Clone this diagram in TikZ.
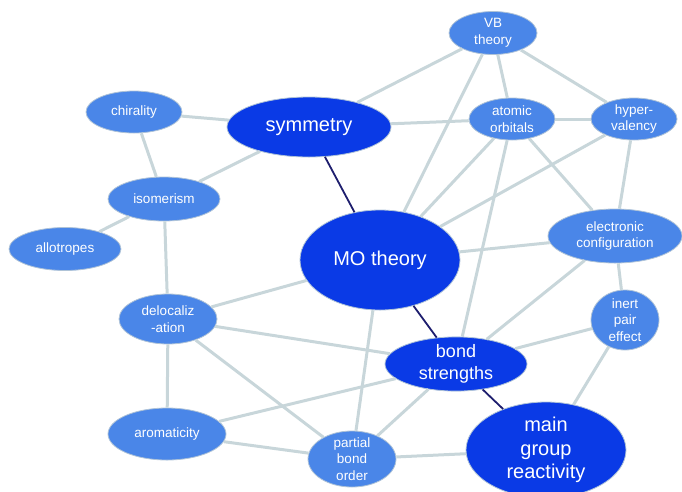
\documentclass[tikz,border=0pt]{standalone}
\usepackage{fontspec}
\setmainfont{Liberation Sans}
\usetikzlibrary{shapes.geometric}
\definecolor{smallblue}{RGB}{74,134,232}
\definecolor{bigblue}{RGB}{10,58,230}
\definecolor{rim}{RGB}{175,195,215}
\definecolor{linkgray}{RGB}{200,214,218}
\definecolor{darklink}{RGB}{30,30,110}

\begin{document}
\begin{tikzpicture}[x=1pt,y=-1pt]
\useasboundingbox (0,0) rectangle (682,491);
\begin{scope}[every node/.style={ellipse,fill=smallblue,draw=rim,line width=0.8pt,
    text=white,align=center,inner sep=0pt,font=\fontsize{13.5}{16.5}\selectfont}]
    \node[minimum width=88pt,minimum height=43pt] (VB) at (493,33) {VB\\theory};
    \node[minimum width=86pt,minimum height=42pt] (AO) at (512,119) {atomic\\orbitals};
    \node[minimum width=86pt,minimum height=42pt] (Hyp) at (634,119) {hyper-\\valency};
    \node[minimum width=96pt,minimum height=42pt] (Chir) at (134,112) {chirality};
    \node[minimum width=112pt,minimum height=44pt] (Iso) at (164,199) {isomerism};
    \node[minimum width=112pt,minimum height=43pt] (Allo) at (65,249) {allotropes};
    \node[minimum width=98pt,minimum height=50pt] (Deloc) at (168,319) {delocaliz\\-ation};
    \node[minimum width=118pt,minimum height=52pt] (Arom) at (167,434) {aromaticity};
    \node[minimum width=88pt,minimum height=56pt,inner ysep=-3pt] (PBO) at (352,459) {partial\\bond\\order};
    \node[minimum width=134pt,minimum height=54pt] (EC) at (615,236) {electronic\\configuration};
    \node[minimum width=68pt,minimum height=60pt,inner ysep=-2pt] (IPE) at (625,320) {inert\\pair\\effect};
\end{scope}

\begin{scope}[every node/.style={ellipse,fill=bigblue,draw=rim,line width=0.8pt,
    text=white,align=center,inner sep=0pt,font=\fontsize{20}{23.5}\selectfont}]
    \node[minimum width=164pt,minimum height=60pt] (Sym) at (309,127) {symmetry};
    \node[minimum width=160pt,minimum height=100pt] (MO) at (380,260) {MO theory};
    \node[minimum width=142pt,minimum height=50pt,font=\fontsize{18}{21.5}\selectfont] (BS) at (456,364) {bond\\strengths};
    \node[minimum width=160pt,minimum height=96pt] (MGR) at (546,450) {main\\group\\reactivity};
\end{scope}

\begin{scope}[every edge/.style={draw=linkgray,line width=3pt}]
              \path (Chir) edge (Sym);
              \path (Chir) edge (Iso);
              \path (Iso) edge (Sym);
              \path (Iso) edge (Allo);
              \path (Iso) edge (Deloc);
              \path (Sym) edge (VB);
              \path (Sym) edge (AO);
              \path (VB) edge (AO);
              \path (VB) edge (Hyp);
              \path (VB) edge (MO);
              \path (AO) edge (Hyp);
              \path (AO) edge (MO);
              \path (AO) edge (BS);
              \path (AO) edge (EC);
              \path (Hyp) edge (MO);
              \path (Hyp) edge (EC);
              \path (EC) edge (MO);
              \path (EC) edge (BS);
              \path (EC) edge (IPE);
              \path (IPE) edge (BS);
              \path (IPE) edge (MGR);
              \path (MO) edge (Deloc);
              \path (MO) edge (PBO);
              \path (Deloc) edge (BS);
              \path (Deloc) edge (PBO);
              \path (Deloc) edge (Arom);
              \path (Arom) edge (BS);
              \path (Arom) edge (PBO);
              \path (PBO) edge (BS);
              \path (PBO) edge (MGR);
\end{scope}

\begin{scope}[every edge/.style={draw=darklink,line width=1.8pt}]
              \path (Sym) edge (MO);
              \path (MO) edge (BS);
              \path (BS) edge (MGR);
\end{scope}
\end{tikzpicture}
\end{document}
